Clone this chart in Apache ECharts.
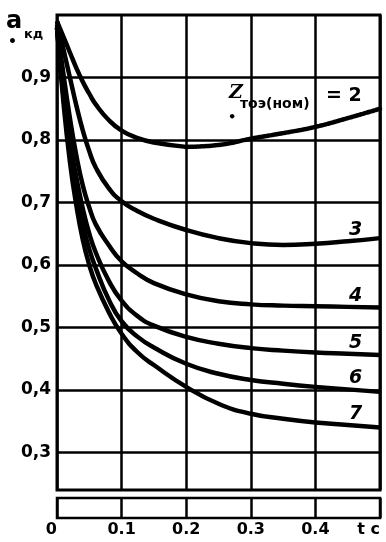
<!DOCTYPE html>
<html>
<head>
<meta charset="utf-8">
<script src="https://cdn.jsdelivr.net/npm/echarts@6/dist/echarts.min.js"></script>
<style>
  html, body { margin: 0; padding: 0; background: #fff; }
  #chart { width: 386px; height: 542px; }
</style>
</head>
<body>
<div id="chart"></div>
<script>
// время, с
const times = [0, 0.01, 0.02, 0.03, 0.04, 0.05, 0.06, 0.08, 0.1, 0.125, 0.15, 0.2, 0.25, 0.3, 0.35, 0.4, 0.45, 0.5]

// a*кд для разных Z*тоэ(ном)
const curve2 = [0.99, 0.965, 0.94, 0.915, 0.893, 0.874, 0.857, 0.832, 0.815, 0.803, 0.796, 0.789, 0.792, 0.802, 0.811, 0.821, 0.835, 0.85]
const curve3 = [0.99, 0.945, 0.9, 0.855, 0.815, 0.782, 0.756, 0.723, 0.702, 0.686, 0.674, 0.656, 0.643, 0.635, 0.632, 0.634, 0.638, 0.643]
const curve4 = [0.985, 0.905, 0.835, 0.775, 0.727, 0.692, 0.665, 0.632, 0.606, 0.586, 0.571, 0.553, 0.542, 0.537, 0.535, 0.534, 0.533, 0.532]
const curve5 = [0.98, 0.88, 0.8, 0.74, 0.69, 0.65, 0.62, 0.575, 0.543, 0.518, 0.503, 0.485, 0.474, 0.467, 0.463, 0.46, 0.458, 0.456]
const curve6 = [0.98, 0.87, 0.78, 0.715, 0.665, 0.625, 0.595, 0.545, 0.51, 0.485, 0.468, 0.442, 0.426, 0.416, 0.41, 0.405, 0.401, 0.397]
const curve7 = [0.98, 0.86, 0.765, 0.695, 0.64, 0.6, 0.57, 0.525, 0.49, 0.46, 0.44, 0.405, 0.378, 0.362, 0.354, 0.348, 0.344, 0.34]

const curveNames = ['3', '4', '5', '6', '7']
const yTicks = [0.3, 0.4, 0.5, 0.6, 0.7, 0.8, 0.9]

const font = 'DejaVu Sans'
const labelIdx = 16

const pairs = (vals) => times.map((t, i) => [t, vals[i]])

const lineBase = {
  type: 'line',
  smooth: true,
  showSymbol: false,
  xAxisIndex: 0,
  yAxisIndex: 0,
  lineStyle: { color: '#000', width: 4.5 },
  silent: true,
}

// кривая 2: сплошная до 0,2 с, дальше пунктир
const split = times.indexOf(0.2)
const series = [
  { ...lineBase, data: pairs(curve2).slice(0, split + 1) },
  {
    ...lineBase,
    data: pairs(curve2).slice(split),
    lineStyle: { color: '#000', width: 4.5, type: [3, 1.5], cap: 'round' },
  },
]

;[curve3, curve4, curve5, curve6, curve7].forEach((vals, k) => {
  series.push({
    ...lineBase,
    data: pairs(vals),
    markPoint: {
      symbol: 'circle',
      symbolSize: 1,
      itemStyle: { color: 'rgba(0,0,0,0)' },
      label: {
        show: true,
        position: 'top',
        distance: 1,
        offset: [8, 0],
        formatter: curveNames[k],
        color: '#000',
        fontFamily: font,
        fontSize: 19,
        fontStyle: 'italic',
        fontWeight: 'bold',
      },
      data: [{ coord: [times[labelIdx], vals[labelIdx]] }],
    },
  })
})

const chart = echarts.init(document.getElementById('chart'))
chart.setOption({
  animation: false,
  backgroundColor: '#fff',
  grid: [
    { left: 57, right: 6, top: 15, bottom: 52, show: true, borderColor: '#000', borderWidth: 3 },
    { left: 57, right: 6, top: 498, height: 20, show: true, borderColor: '#000', borderWidth: 2.5 },
  ],
  xAxis: [
    {
      type: 'value',
      gridIndex: 0,
      min: 0,
      max: 0.5,
      interval: 0.1,
      axisLine: { show: false },
      axisTick: { show: false },
      axisLabel: { show: false },
      splitLine: { show: true, lineStyle: { color: '#000', width: 2.5 } },
    },
    {
      type: 'value',
      gridIndex: 1,
      min: 0,
      max: 0.5,
      interval: 0.1,
      axisLine: { show: false },
      axisTick: { show: false },
      splitLine: { show: true, lineStyle: { color: '#000', width: 2.5 } },
      axisLabel: {
        color: '#000',
        fontFamily: font,
        fontWeight: 'bold',
        fontSize: 16,
        margin: 4,
        showMinLabel: true,
        showMaxLabel: true,
        alignMinLabel: 'right',
        alignMaxLabel: 'right',
        formatter: (v) => (v === 0 ? '0' : v >= 0.5 ? 't c' : v.toFixed(1)),
      },
    },
  ],
  yAxis: [
    {
      type: 'value',
      gridIndex: 0,
      min: 0.24,
      max: 1.0,
      axisLine: { show: false },
      axisTick: { show: false, customValues: yTicks },
      axisLabel: {
        customValues: yTicks,
        color: '#000',
        fontFamily: font,
        fontWeight: 'bold',
        fontSize: 17,
        margin: 6,
        formatter: (v) => v.toFixed(1).replace('.', ','),
      },
      splitLine: { show: true, lineStyle: { color: '#000', width: 2.5 } },
    },
    { type: 'value', gridIndex: 1, min: 0, max: 1, show: false },
  ],
  graphic: [
    { type: 'text', left: 6, top: 10, style: { text: 'a', font: 'bold 24px ' + font, fill: '#000' } },
    { type: 'text', left: 24, top: 28, style: { text: 'кд', font: 'bold 13px ' + font, fill: '#000' } },
    { type: 'text', left: 8, top: 35, style: { text: '•', font: 'bold 14px ' + font, fill: '#000' } },
    { type: 'text', left: 229, top: 84, style: { text: 'Z', font: 'italic bold 19px DejaVu Serif', fill: '#000' } },
    { type: 'text', left: 228, top: 111, style: { text: '•', font: 'bold 13px ' + font, fill: '#000' } },
    { type: 'text', left: 240, top: 97, style: { text: 'тоэ(ном)', font: 'bold 14px ' + font, fill: '#000' } },
    { type: 'text', left: 326, top: 87, style: { text: '= 2', font: 'bold 19px ' + font, fill: '#000' } },
  ],
  series: series,
})
</script>
</body>
</html>
